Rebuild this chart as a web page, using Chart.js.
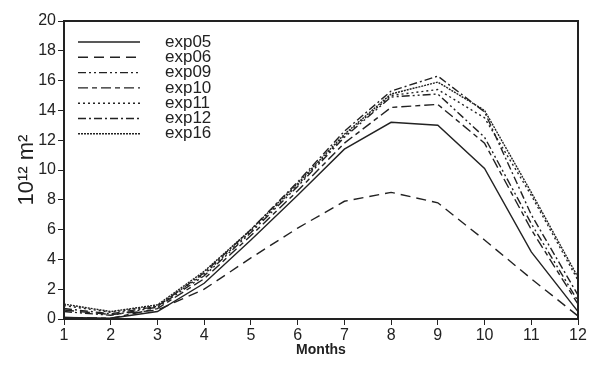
<!DOCTYPE html>
<html>
<head>
<meta charset="utf-8">
<script src="https://cdn.jsdelivr.net/npm/chart.js@4/dist/chart.umd.min.js"></script>
<style>
  html, body { margin: 0; padding: 0; background: #fff; }
  #wrap { width: 598px; height: 372px; }
</style>
</head>
<body>
<div id="wrap"><canvas id="ice"></canvas></div>
<script>
// months 1..12
var months = [1, 2, 3, 4, 5, 6, 7, 8, 9, 10, 11, 12];
var yTicks = [0, 2, 4, 6, 8, 10, 12, 14, 16, 18, 20];

var exp05 = [0.1, 0.05, 0.5, 2.4, 5.3, 8.3, 11.4, 13.2, 13.0, 10.1, 4.5, 0.5];
var exp06 = [0.6, 0.3, 0.6, 2.0, 4.1, 6.1, 7.9, 8.5, 7.8, 5.3, 2.7, 0.2];
var exp09 = [0.5, 0.25, 0.8, 2.9, 5.8, 8.9, 12.2, 14.9, 15.1, 12.2, 6.4, 1.2];
var exp10 = [0.1, 0.05, 0.7, 2.7, 5.6, 8.6, 11.8, 14.2, 14.4, 11.8, 6.0, 1.0];
var exp11 = [0.9, 0.45, 0.9, 3.0, 5.9, 9.0, 12.3, 15.0, 15.4, 13.5, 8.3, 2.6];
var exp12 = [0.7, 0.35, 0.85, 3.1, 6.0, 9.2, 12.6, 15.3, 16.3, 13.9, 7.0, 1.6];
var exp16 = [1.0, 0.5, 0.95, 3.2, 6.0, 9.1, 12.4, 15.1, 15.9, 14.0, 8.5, 2.8];

var names = ['exp05', 'exp06', 'exp09', 'exp10', 'exp11', 'exp12', 'exp16'];
var series = [exp05, exp06, exp09, exp10, exp11, exp12, exp16];
var dashes = [[], [10, 6], [8, 3, 2, 3, 2, 3], [10, 4, 5, 4], [2, 3], [8, 3, 2, 3], [2, 1]];

var datasets = [];
for (var i in names) {
  var pts = [];
  for (var j in months) pts.push({ x: months[j], y: series[i][j] });
  datasets.push({
    label: names[i],
    data: pts,
    borderColor: '#222',
    borderWidth: 1.4,
    borderDash: dashes[i],
    pointRadius: 0,
    tension: 0,
    fill: false
  });
}

// box round the plot area
var frame = {
  id: 'frame',
  afterDraw: function (chart) {
    var a = chart.chartArea, c = chart.ctx;
    c.save();
    c.strokeStyle = '#222';
    c.lineWidth = 2;
    c.strokeRect(a.left, a.top, a.right - a.left, a.bottom - a.top);
    c.restore();
  }
};

// legend drawn inside the plot, top left
var innerLegend = {
  id: 'innerLegend',
  afterDraw: function (chart) {
    var c = chart.ctx;
    c.save();
    c.font = '17px "Liberation Sans", Arial, sans-serif';
    c.fillStyle = '#222';
    c.textBaseline = 'middle';
    chart.data.datasets.forEach(function (ds, k) {
      var y = 42 + k * 15.3;
      c.strokeStyle = '#222';
      c.lineWidth = 1.4;
      c.setLineDash(ds.borderDash);
      c.beginPath();
      c.moveTo(78, y);
      c.lineTo(140, y);
      c.stroke();
      c.setLineDash([]);
      c.fillText(ds.label, 165, y);
    });
    c.restore();
  }
};

var ctx = document.getElementById('ice');
var myChart = new Chart(ctx, {
  type: 'line',
  data: { datasets: datasets },
  options: {
    responsive: true,
    maintainAspectRatio: false,
    animation: false,
    layout: { padding: { left: 0, right: 20, top: 21, bottom: 0 } },
    plugins: {
      legend: { display: false },
      tooltip: { enabled: false }
    },
    scales: {
      x: {
        type: 'linear',
        min: 1,
        max: 12,
        afterFit: function (s) { s.height = 53; },
        afterBuildTicks: function (s) { s.ticks = months.map(function (v) { return { value: v }; }); },
        grid: { drawOnChartArea: false, tickLength: 6, color: '#222', tickColor: '#222' },
        border: { display: false },
        ticks: {
          color: '#222',
          padding: 1,
          maxRotation: 0,
          autoSkip: false,
          font: { size: 16, family: '"Liberation Sans", Arial, sans-serif' }
        },
        title: {
          display: true,
          text: 'Months',
          color: '#222',
          padding: { top: 0, bottom: 13 },
          font: { size: 14, weight: 'bold', family: '"Liberation Sans", Arial, sans-serif' }
        }
      },
      y: {
        min: 0,
        max: 20,
        afterFit: function (s) { s.width = 64; },
        afterBuildTicks: function (s) { s.ticks = yTicks.map(function (v) { return { value: v }; }); },
        grid: { drawOnChartArea: false, tickLength: 6, color: '#222', tickColor: '#222' },
        border: { display: false },
        ticks: {
          color: '#222',
          padding: 2,
          font: { size: 16, family: '"Liberation Sans", Arial, sans-serif' }
        },
        title: {
          display: true,
          text: '10¹² m²',
          color: '#222',
          padding: { top: 14, bottom: 0 },
          font: { size: 22, family: '"Liberation Sans", Arial, sans-serif' }
        }
      }
    }
  },
  plugins: [frame, innerLegend]
});
</script>
</body>
</html>
